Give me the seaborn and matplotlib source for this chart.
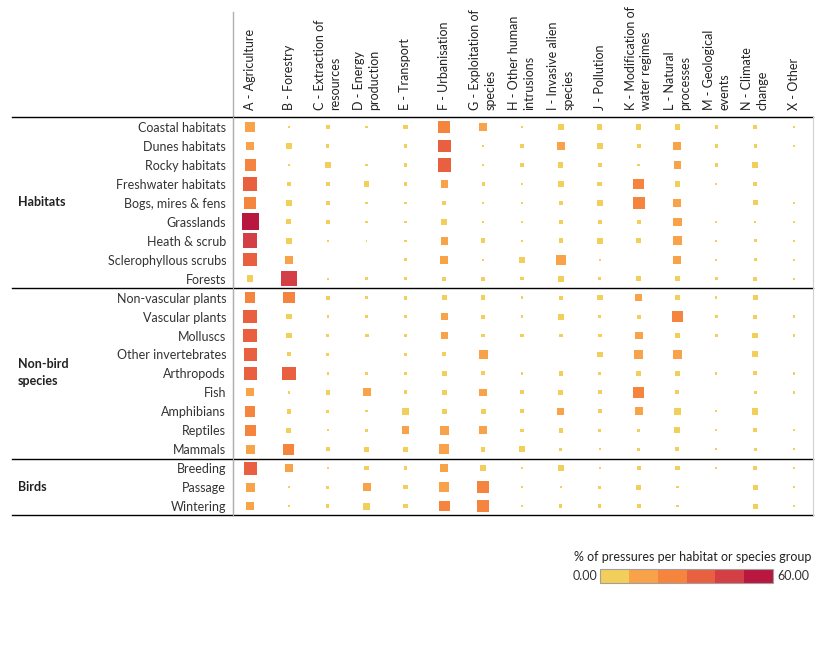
import numpy as np
import pandas as pd
import seaborn as sns
import matplotlib.pyplot as plt
from matplotlib.colors import ListedColormap, BoundaryNorm
import matplotlib as mpl

nan = np.nan

threats = ["A - Agriculture", "B - Forestry", "C - Extraction of\nresources",
           "D - Energy\nproduction", "E - Transport", "F - Urbanisation",
           "G - Exploitation of\nspecies", "H - Other human\nintrusions",
           "I - Invasive alien\nspecies", "J - Pollution",
           "K - Modification of\nwater regimes", "L - Natural\nprocesses",
           "M - Geological\nevents", "N - Climate\nchange", "X - Other"]

habitat_rows = ["Coastal habitats", "Dunes habitats", "Rocky habitats",
                "Freshwater habitats", "Bogs, mires & fens", "Grasslands",
                "Heath & scrub", "Sclerophyllous scrubs", "Forests"]
species_rows = ["Non-vascular plants", "Vascular plants", "Molluscs",
                "Other invertebrates", "Arthropods", "Fish", "Amphibians",
                "Reptiles", "Mammals"]
bird_rows = ["Breeding", "Passage", "Wintering"]

# % of pressures, columns A..X
habitat_values = [
    [18, 1, 3, 1, 4, 27, 12, 1, 6, 5, 6, 5, 2, 3, 1],
    [13, 6, 2, nan, 3, 32, 1, 2, 12, 6, 3, 12, 2, 2, 1],
    [24, 1.5, 8, 1, 3, 33, 1, 3, 5, 3, 1.5, 10, 2, 8, nan],
    [34, 2, 3, 6, 2, 11, 2, 1, 6, 4, 21, 6, 1, 3, nan],
    [26, 7, 3, 1, 1, 3, 1, 1, 3, 6, 27, 12, nan, 5, 1],
    [56, 5, 2.5, 1, 1, 7, 1, 1, 4, 3, 3, 13, 1, 1, 1],
    [42, 6, 1, 0.5, 1, 11, 4, 0.5, 4, 6, 4, 15, 0.5, 2, 0.5],
    [35, 12, nan, nan, 1.5, 13, 1, 6, 18, 1, nan, 12, 1, 2, 0.5],
    [8, 47, 1, 2, 2, 3, 3, 2, 7, 2, 5, 6, 2, 3, 1],
]
species_values = [
    [21, 24, 3, 1, 3, 4, 4, 1, 3, 6, 11, 6, 1, 5, nan],
    [34, 6, 1, 1, 2, 11, 3, 1, 7, 2, 3, 23, 2, 3, 1],
    [34, 6, 2, 3, 2, 11, 3, 2, 3, 3, 12, 5, 2, 6, 1],
    [33, 3, 2, nan, 2, 3, 15, nan, nan, 6, 14, 15, nan, 7, nan],
    [33, 35, 1, 1, 1, 6, 3, 1, 4, 2, 6, 4, 1, 3, 1],
    [12, 1, 4, 13, 3, 6, 11, 3, 5, 3, 26, 3, nan, 2, 1],
    [22, 4, 2, 1, 8, 6, 5, 3, 10, 3, 12, 8, 1, 8, nan],
    [24, 5, 1, 2, 12, 15, 11, 2, 4, 2, 2, 7, 1, 3, 1],
    [15, 23, 3, 4, 4, 18, 4, 8, 2, 1, 2, 3, 1, 2, 1],
]
bird_values = [
    [33, 14, 1, 4, 3, 13, 6, 1, 7, 1, 3, 4, 1, 4, 1],
    [15, 1, 2, 13, 4, 18, 26, 1, 1, 2, 5, 1, nan, 5, 1],
    [14, 1, 2, 9, 4, 21, 27, 1, 2, 2, 3, 1, nan, 5, 1],
]

bin_edges = [0, 10, 20, 30, 40, 50, 60]
bin_names = ["0-10", "10-20", "20-30", "30-40", "40-50", "50-60"]
bin_colors = ["#f2cf5a", "#f8a24a", "#f5843f", "#e8603f", "#d33f44", "#b8173f"]

rows = habitat_rows + species_rows + bird_rows
values = habitat_values + species_values + bird_values

records = []
for r, vals in zip(rows, values):
    for t, v in zip(threats, vals):
        records.append((r, t, v))
df = pd.DataFrame(records, columns=["group", "threat", "value"]).dropna()
df["bin"] = pd.cut(df["value"], bins=bin_edges, labels=bin_names, right=False).astype(str)

plt.rcParams["font.family"] = ["Lato", "DejaVu Sans"]
fig = plt.figure(figsize=(8.27, 6.69), dpi=100)
W, H = 827, 669
ax = fig.add_axes([233 / W, (H - 515) / H, 580 / W, 398 / H])

sns.scatterplot(data=df, x="threat", y="group", size="value", sizes=(0, 162),
                size_norm=(0, 60), hue="bin", hue_order=bin_names,
                palette=dict(zip(bin_names, bin_colors)), marker="s",
                linewidth=0, legend=False, ax=ax)

ax.set_xlim(-0.44, 14.49)
ax.set_ylim(20.47, -0.53)
ax.set_xlabel("")
ax.set_ylabel("")

ax.xaxis.tick_top()
ax.set_xticks(range(len(threats)))
ax.set_xticklabels(threats, rotation=90, fontsize=9, color="#222222")
for lbl in ax.get_xticklabels():
    lbl.set_multialignment("left")
    lbl.set_linespacing(1.35)
ax.set_yticks(range(len(rows)))
ax.set_yticklabels(rows, fontsize=9, color="#333333")
ax.tick_params(length=0, pad=5)

for s in ["top", "bottom"]:
    ax.spines[s].set_visible(False)
ax.spines["left"].set_color("#b0b0b0")
ax.spines["right"].set_color("#d0d0d0")
ax.plot([0, 0], [0, 1 + 105 / 398], transform=ax.transAxes, color="#b0b0b0",
        lw=1, clip_on=False)

# group separators
trans = ax.get_yaxis_transform()
for y in [-0.53, 8.5, 17.5, 20.47]:
    ax.plot([-0.381, 1], [y, y], transform=trans, color="black", lw=1, clip_on=False)

# group labels
fig.text(18 / W, 1 - 202 / H, "Habitats", fontsize=9, fontweight="bold",
         color="#222222", va="center")
fig.text(18 / W, 1 - 372 / H, "Non-bird\nspecies", fontsize=9, fontweight="bold",
         color="#222222", va="center", linespacing=1.5)
fig.text(18 / W, 1 - 487 / H, "Birds", fontsize=9, fontweight="bold",
         color="#222222", va="center")

# colour legend
cax = fig.add_axes([600 / W, (H - 583) / H, 173 / W, 14 / H])
cb = mpl.colorbar.ColorbarBase(cax, cmap=ListedColormap(bin_colors),
                               norm=BoundaryNorm(bin_edges, len(bin_colors)),
                               orientation="horizontal")
cb.set_ticks([])
cax.minorticks_off()
cax.tick_params(which="both", length=0)
cb.outline.set_edgecolor("#a0a0a0")
cb.outline.set_linewidth(0.8)
fig.text(811 / W, 1 - 557 / H, "% of pressures per habitat or species group",
         fontsize=9, ha="right", va="center", color="#222222")
fig.text(597 / W, 1 - 576 / H, "0.00", fontsize=9, ha="right", va="center", color="#333333")
fig.text(777 / W, 1 - 576 / H, "60.00", fontsize=9, ha="left", va="center", color="#333333")

fig.savefig("out.png", dpi=100)
